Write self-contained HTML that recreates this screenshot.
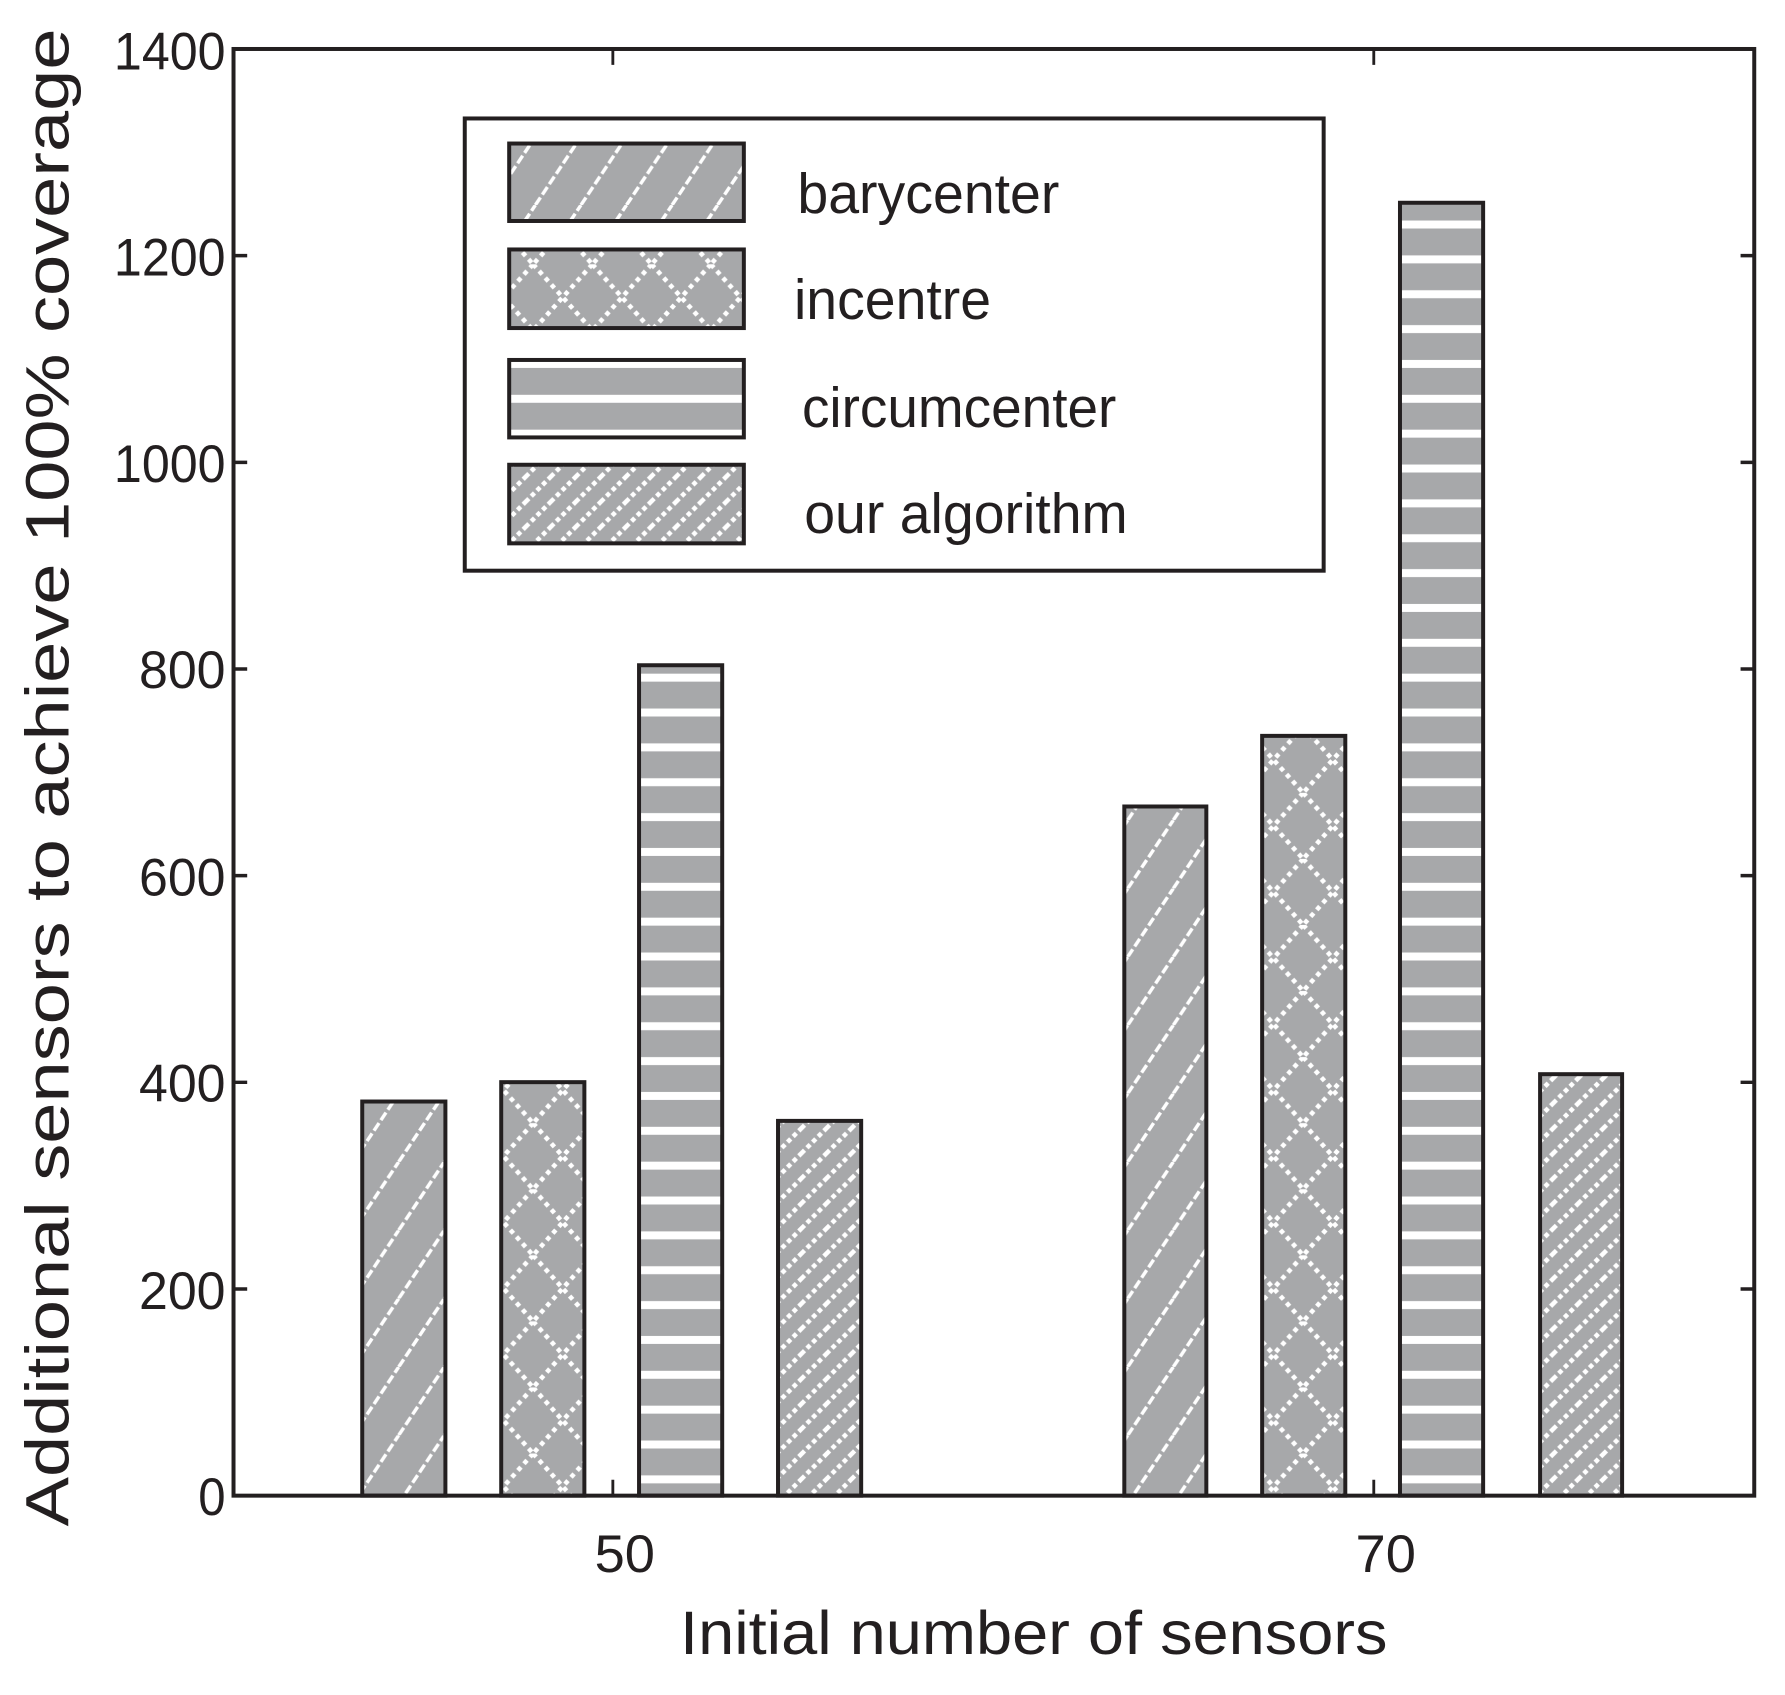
<!DOCTYPE html>
<html><head><meta charset="utf-8"><style>html,body{margin:0;padding:0;background:#fff}svg{display:block}</style></head>
<body>
<svg width="1785" height="1695" viewBox="0 0 1567 1488" preserveAspectRatio="none" xmlns="http://www.w3.org/2000/svg" font-family="'Liberation Sans', sans-serif" fill="#231f20">
<defs>
<pattern id="bary" patternUnits="userSpaceOnUse" width="40" height="60">
<rect width="40" height="60" fill="#a7a8aa"/>
<path d="M-10,60 L30,0 M30,60 L70,0 M-50,60 L-10,0" stroke="#fff" stroke-width="3" stroke-dasharray="8,3"/>
</pattern>
<pattern id="inc" patternUnits="userSpaceOnUse" width="52" height="58">
<rect width="52" height="58" fill="#a7a8aa"/>
<path d="M0,0 L52,58 M52,0 L0,58" stroke="#fff" stroke-width="4" stroke-dasharray="4,4"/>
</pattern>
<pattern id="circ" patternUnits="userSpaceOnUse" width="40" height="30.6">
<rect width="40" height="30.6" fill="#a7a8aa"/>
<rect y="10" width="40" height="7" fill="#fff"/>
</pattern>
<pattern id="ours" patternUnits="userSpaceOnUse" width="22" height="22">
<rect width="22" height="22" fill="#a7a8aa"/>
<path d="M-5.5,27.5 L27.5,-5.5 M-16.5,16.5 L16.5,-16.5 M5.5,38.5 L38.5,5.5" stroke="#fff" stroke-width="4" stroke-dasharray="4,3"/>
</pattern>
</defs>
<g stroke="#231f20" stroke-width="3.5">
<rect x="318" y="967" width="73" height="346" fill="url(#bary)"/>
<rect x="440" y="950" width="73" height="363" fill="url(#inc)"/>
<rect x="561" y="584" width="73" height="729" fill="url(#circ)"/>
<rect x="683" y="984" width="73" height="329" fill="url(#ours)"/>
<rect x="987" y="708" width="72" height="605" fill="url(#bary)"/>
<rect x="1108" y="646" width="73" height="667" fill="url(#inc)"/>
<rect x="1229" y="178" width="73" height="1135" fill="url(#circ)"/>
<rect x="1352" y="943" width="72" height="370" fill="url(#ours)"/>
<rect x="205" y="43" width="1335" height="1270" fill="none"/>
<path d="M538,1313 v-14 M1206,1313 v-14 M538,43 v14 M1206,43 v14" stroke-width="2.5"/>
<path d="M205,1131.6 h12 M205,950.1 h12 M205,768.7 h12 M205,587.3 h12 M205,405.9 h12 M205,224.4 h12 M1540,1131.6 h-12 M1540,950.1 h-12 M1540,768.7 h-12 M1540,587.3 h-12 M1540,405.9 h-12 M1540,224.4 h-12" stroke-width="3"/>
<rect x="408" y="104" width="754" height="397" fill="#fff"/>
<rect x="447" y="126" width="206" height="68" fill="url(#bary)"/>
<rect x="447" y="219" width="206" height="69" fill="url(#inc)"/>
<rect x="447" y="316" width="206" height="68" fill="url(#circ)"/>
<rect x="447" y="408" width="206" height="69" fill="url(#ours)"/>
</g>
<g font-size="50">
<text x="700" y="187" textLength="230" lengthAdjust="spacingAndGlyphs">barycenter</text>
<text x="697" y="280" textLength="173" lengthAdjust="spacingAndGlyphs">incentre</text>
<text x="704" y="375" textLength="276" lengthAdjust="spacingAndGlyphs">circumcenter</text>
<text x="706" y="468" textLength="284" lengthAdjust="spacingAndGlyphs">our algorithm</text>
</g>
<g font-size="46" text-anchor="end">
<text x="198" y="1330" textLength="24" lengthAdjust="spacingAndGlyphs">0</text>
<text x="198" y="1149" textLength="76" lengthAdjust="spacingAndGlyphs">200</text>
<text x="198" y="967" textLength="76" lengthAdjust="spacingAndGlyphs">400</text>
<text x="198" y="786" textLength="76" lengthAdjust="spacingAndGlyphs">600</text>
<text x="198" y="604" textLength="76" lengthAdjust="spacingAndGlyphs">800</text>
<text x="198" y="423" textLength="98" lengthAdjust="spacingAndGlyphs">1000</text>
<text x="198" y="242" textLength="98" lengthAdjust="spacingAndGlyphs">1200</text>
<text x="198" y="61" textLength="98" lengthAdjust="spacingAndGlyphs">1400</text>
</g>
<g font-size="46">
<text x="522" y="1380" textLength="53" lengthAdjust="spacingAndGlyphs">50</text>
<text x="1190" y="1380" textLength="53" lengthAdjust="spacingAndGlyphs">70</text>
</g>
<text x="597" y="1452" font-size="54" textLength="621" lengthAdjust="spacingAndGlyphs">Initial number of sensors</text>
<text transform="translate(60,1340) rotate(-90)" x="0" y="0" font-size="54" textLength="1315" lengthAdjust="spacingAndGlyphs">Additional sensors to achieve 100% coverage</text>
</svg>
</body></html>
